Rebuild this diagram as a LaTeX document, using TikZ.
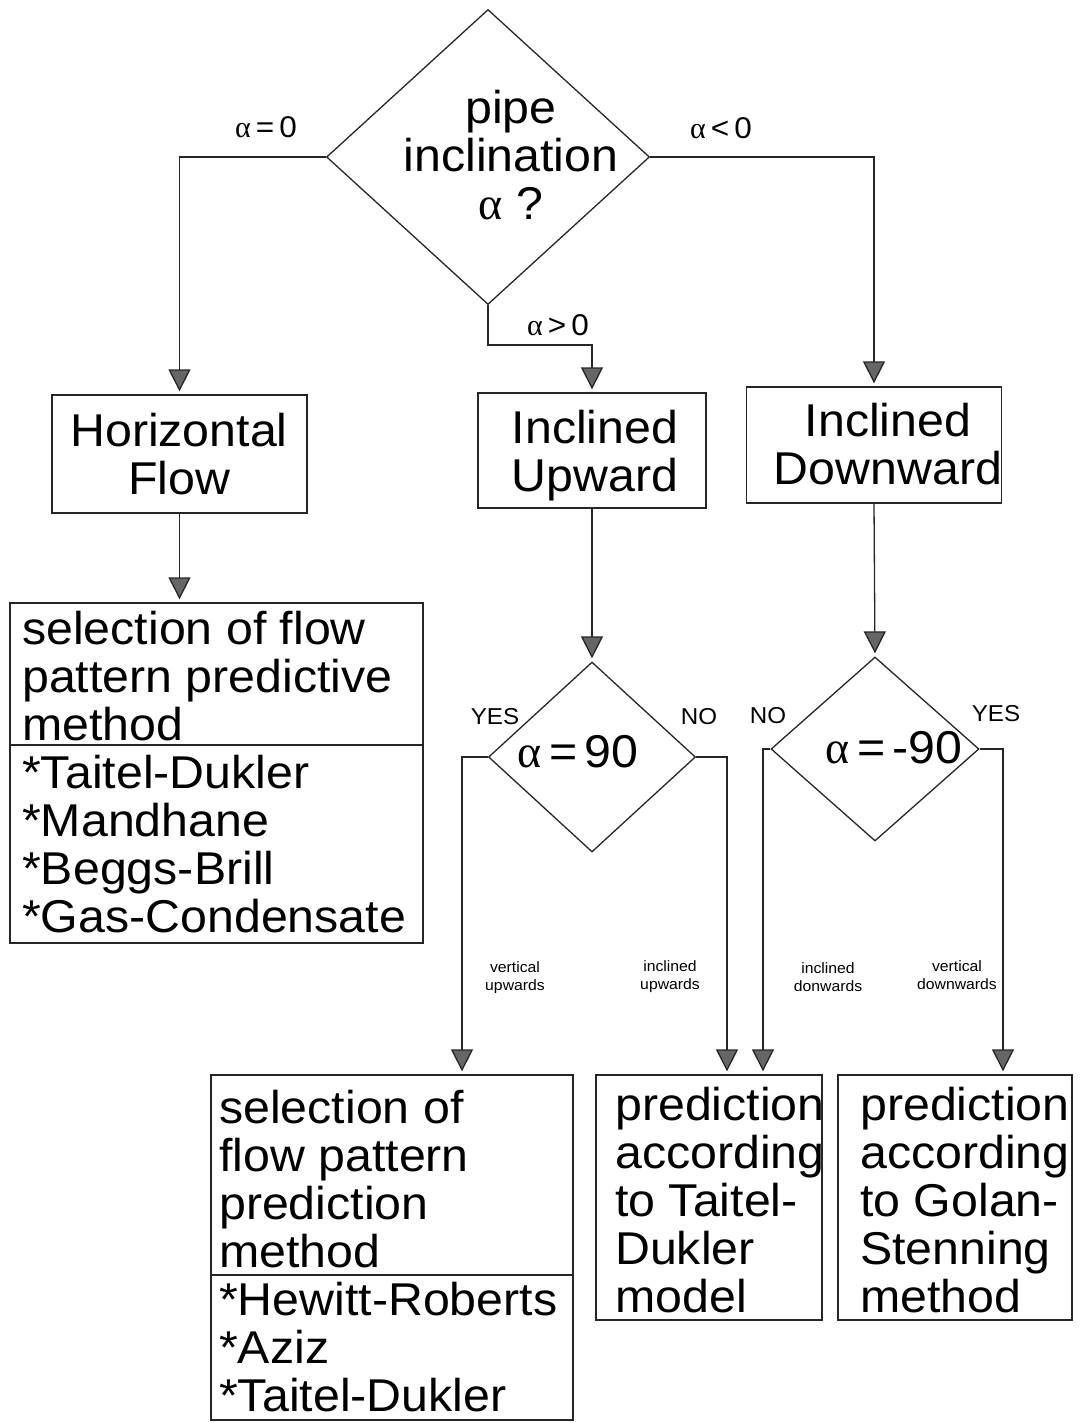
\documentclass[tikz,border=0pt]{standalone}
\usepackage{fontspec}
\setmainfont{Liberation Sans}[FakeStretch=1.05]
\newfontfamily\grkfont{Liberation Serif}
\usetikzlibrary{shapes.geometric,arrows.meta}
\newcommand{\alp}{{\grkfont α}}
\begin{document}
\begin{tikzpicture}[x=1pt,y=-1pt,
  line/.style={line width=1.3pt, draw=black!85},
  arr/.style={line, -{Triangle[width=22pt,length=22pt,fill=black!60]}, shorten >=3pt},
  box/.style={line, rectangle, inner sep=0pt},
  dia/.style={line, diamond, inner sep=0pt, aspect=1},
  big/.style={inner sep=0pt, font=\fontsize{46}{48}\selectfont, align=left},
  lbl/.style={inner sep=0pt, font=\fontsize{30}{32}\selectfont},
  yn/.style={inner sep=0pt, font=\fontsize{23}{26}\selectfont},
  tiny/.style={inner sep=0pt, font=\fontsize{15}{18}\selectfont, align=center}]
\useasboundingbox (0,0) rectangle (1085,1423);

% main decision
\node[dia, minimum width=323pt, minimum height=295pt] (d1) at (488,157) {};
\node[big, align=center] (t1) at (511,155) {pipe\\inclination\\\alp\ ?};

% first level boxes
\node[box, minimum width=255pt, minimum height=118pt] (hflow) at (179.5,454) {};
\node[big, align=center, anchor=north] (thflow) at (179,413) {Horizontal\\Flow};
\node[box, minimum width=228pt, minimum height=115pt] (hup) at (592,450.5) {};
\node[big, align=center, anchor=north] (thup) at (595,410) {Inclined\\Upward};
\node[box, minimum width=255pt, minimum height=116pt] (hdown) at (874,445) {};
\node[big, align=center, anchor=north] (thdown) at (888,403) {Inclined\\Downward};

\coordinate (m1) at (488,345);
\draw[arr] (d1.west) -| (hflow.north);
\draw[arr] (d1.east) -| (hdown.north);
\draw[arr] (d1.south) -- (m1) -| (hup.north);
\node[lbl] (la0) at (266,127) {\alp\,=\,0};
\node[lbl] (lalt) at (721,128) {\alp\,<\,0};
\node[lbl] (lagt) at (558,325) {\alp\,>\,0};

% horizontal flow selection
\node[box, minimum width=413pt, minimum height=340pt] (sel) at (216.5,773) {};
\coordinate (dv1) at (0,745);
\draw[line] (sel.west |- dv1) -- (sel.east |- dv1);
\node[big, anchor=north west] (tsel) at (22,611) {selection of flow\\pattern predictive\\method\\*Taitel-Dukler\\*Mandhane\\*Beggs-Brill\\*Gas-Condensate};
\draw[arr] (hflow.south) -- (hflow.south |- sel.north);

% second level decisions
\node[dia, minimum width=207pt, minimum height=190pt] (d90) at (592,757) {};
\node[big] (t90) at (578,752) {\alp\,=\,90};
\node[dia, minimum width=208pt, minimum height=184pt] (dm90) at (875,749) {};
\node[big] (tm90) at (894,748) {\alp\,=\,-90};
\draw[arr] (hup.south) -- (d90.north);
\draw[arr] (hdown.south) -- (dm90.north);
\node[yn] (yes1) at (495,717) {YES};
\node[yn] (no1) at (699,717) {NO};
\node[yn] (no2) at (768,716) {NO};
\node[yn] (yes2) at (996,714) {YES};

% bottom boxes
\node[box, minimum width=362pt, minimum height=345pt] (selA) at (392,1247.5) {};
\coordinate (dv2) at (0,1275);
\draw[line] (selA.west |- dv2) -- (selA.east |- dv2);
\node[big, anchor=north west] (tselA) at (219,1090) {selection of\\flow pattern\\prediction\\method\\*Hewitt-Roberts\\*Aziz\\*Taitel-Dukler};
\node[box, minimum width=226pt, minimum height=245pt] (predB) at (709,1197.5) {};
\node[big, anchor=north west] (tpredB) at (615,1087) {prediction\\according\\to Taitel-\\Dukler\\model};
\node[box, minimum width=234pt, minimum height=245pt] (predC) at (955,1197.5) {};
\node[big, anchor=north west] (tpredC) at (860,1087) {prediction\\according\\to Golan-\\Stenning\\method};

\draw[arr] (d90.west) -| ([xshift=70pt]selA.north);
\draw[arr] (d90.east) -| ([xshift=18pt]predB.north);
\draw[arr] (dm90.west) -| ([xshift=54pt]predB.north);
\draw[arr] (dm90.east) -| ([xshift=48pt]predC.north);

\node[tiny] (l1) at (515,978) {vertical\\upwards};
\node[tiny] (l2) at (670,977) {inclined\\upwards};
\node[tiny] (l3) at (828,977) {inclined\\donwards};
\node[tiny] (l4) at (957,975) {vertical\\downwards};
\end{tikzpicture}
\end{document}
